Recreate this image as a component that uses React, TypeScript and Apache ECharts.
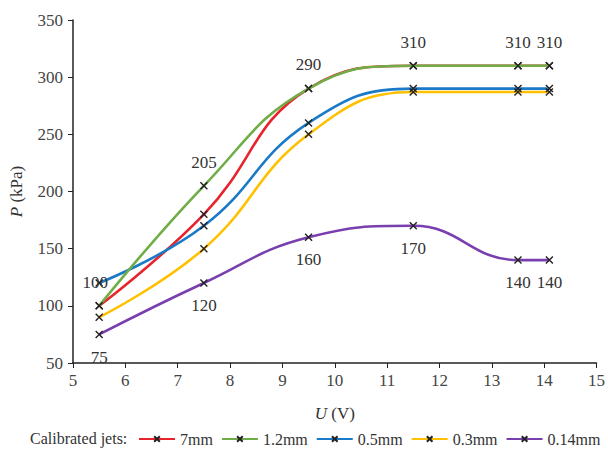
import React, { useEffect, useRef } from "react";
import * as echarts from "echarts";

const voltages = [5.5, 7.5, 9.5, 11.5, 13.5, 14.1];
const seriesNames = ["7mm", "1.2mm", "0.5mm", "0.3mm", "0.14mm"];
const p7mm = [100, 180, 290, 310, 310, 310];
const p12mm = [100, 205, 290, 310, 310, 310];
const p05mm = [120, 170, 260, 290, 290, 290];
const p03mm = [90, 150, 250, 287, 287, 287];
const p014mm = [75, 120, 160, 170, 140, 140];
// which points carry a value label (top of 1.2mm / bottom of 0.14mm)
const greenTopLabels = [true, true, true, true, true, true];
const purpleBottomLabels = [true, true, true, true, true, true];
const yTicks = [50, 100, 150, 200, 250, 300, 350];
const xTicks = [5, 6, 7, 8, 9, 10, 11, 12, 13, 14, 15];

const colors = ["#e8232b", "#70ad47", "#1a7ac8", "#ffc000", "#7a3fae"];
const FONT = "'Liberation Serif', 'DejaVu Serif', serif";
const CROSS = "path://M0,0L10,10M10,0L0,10";

export default function App() {
  const ref = useRef<HTMLDivElement>(null);
  useEffect(() => {
    if (!ref.current) return;
    const chart = echarts.init(ref.current, null, { renderer: "svg" });
    const allData = [p7mm, p12mm, p05mm, p03mm, p014mm];
    const series = allData.map((vals, si) => ({
      name: seriesNames[si],
      type: "line",
      smooth: 0.45,
      symbol: CROSS,
      symbolSize: 7,
      z: si === 1 ? 4 : 3,
      lineStyle: { color: colors[si], width: 2.6 },
      itemStyle: { color: colors[si], borderColor: "#222", borderWidth: 1.4 },
      data: vals.map((v, i) => {
        const item: any = { value: [voltages[i], v] };
        if (si === 1 && greenTopLabels[i]) {
          item.label = {
            show: true,
            position: "top",
            distance: 11,
            offset: i === 0 ? [-4, 0] : [0, 0],
          };
        }
        if (si === 4 && purpleBottomLabels[i]) {
          item.label = { show: true, position: "bottom", distance: 10 };
        }
        return item;
      }),
      label: {
        show: false,
        formatter: (p: any) => String(p.value[1]),
        color: "#333",
        fontFamily: FONT,
        fontSize: 17,
      },
    }));
    chart.setOption({
      animation: false,
      textStyle: { fontFamily: FONT },
      grid: { left: 72, right: 8, top: 20, bottom: 87 },
      xAxis: {
        type: "value",
        min: xTicks[0],
        max: xTicks[xTicks.length - 1],
        interval: 1,
        name: "{i|U} (V)",
        nameLocation: "middle",
        nameGap: 42,
        nameTextStyle: {
          fontFamily: FONT,
          fontSize: 17,
          color: "#333",
          rich: { i: { fontStyle: "italic", fontFamily: FONT, fontSize: 17, color: "#333" } },
        },
        axisLine: { lineStyle: { color: "#222", width: 1.5 } },
        axisTick: { show: true, length: 5, lineStyle: { color: "#222" } },
        axisLabel: { color: "#444", fontFamily: FONT, fontSize: 17, margin: 9 },
        splitLine: { show: false },
      },
      yAxis: {
        type: "value",
        min: yTicks[0],
        max: yTicks[yTicks.length - 1],
        interval: 50,
        name: "{i|P} (kPa)",
        nameLocation: "middle",
        nameGap: 48,
        nameRotate: 90,
        nameTextStyle: {
          fontFamily: FONT,
          fontSize: 17,
          color: "#333",
          rich: { i: { fontStyle: "italic", fontFamily: FONT, fontSize: 17, color: "#333" } },
        },
        axisLine: { show: true, lineStyle: { color: "#222", width: 1.5 } },
        axisTick: { show: true, length: 5, lineStyle: { color: "#222" } },
        axisLabel: { color: "#444", fontFamily: FONT, fontSize: 17, margin: 10 },
        splitLine: { show: false },
      },
      legend: {
        left: 138,
        top: 431,
        width: 470,
        padding: 0,
        itemWidth: 36,
        itemHeight: 7,
        itemGap: 8,
        textStyle: { fontFamily: FONT, fontSize: 16, color: "#333" },
        data: seriesNames,
      },
      graphic: [
        {
          type: "text",
          left: 30,
          top: 430,
          style: { text: "Calibrated jets:", font: `16px ${FONT}`, fill: "#333" },
        },
      ],
      series,
    });
    return () => chart.dispose();
  }, []);
  return <div ref={ref} style={{ width: 608, height: 450, position: "absolute", left: 0, top: 0 }} />;
}
